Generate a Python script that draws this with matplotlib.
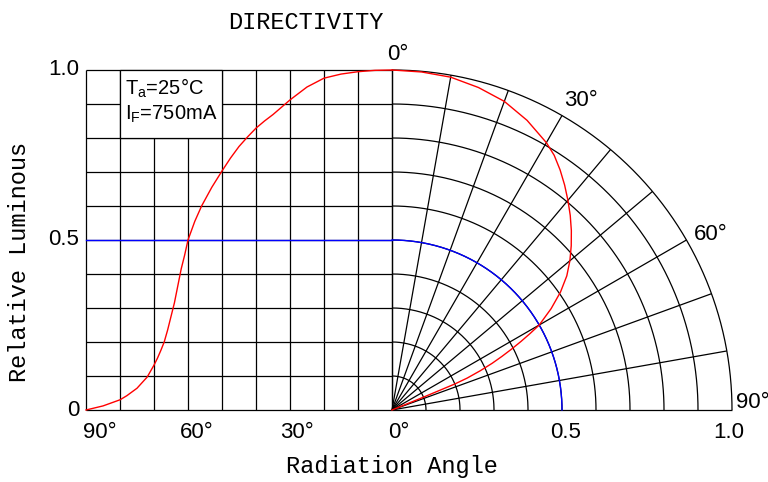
import numpy as np
import matplotlib
matplotlib.use("Agg")
import matplotlib.pyplot as plt
from matplotlib.patches import Rectangle

plt.rcParams['font.family'] = ['Liberation Sans', 'DejaVu Sans']
plt.rcParams['mathtext.fontset'] = 'custom'
plt.rcParams['mathtext.rm'] = 'Liberation Sans'

# ---- data ----
# rectangular plot (left half): relative luminous vs. angle
rect_angle = [0, 5, 10, 15, 20, 25, 30, 35, 37.5, 40, 42.5, 45, 47.5, 50, 53, 56, 58,
              60, 61, 62, 63, 64, 65, 66, 67, 68, 69, 70, 72, 75, 78, 80, 85, 90]
rect_lum = [1.0, 0.999, 0.995, 0.988, 0.976, 0.95, 0.912, 0.869, 0.85, 0.829, 0.803,
            0.775, 0.741, 0.703, 0.655, 0.60, 0.555, 0.50, 0.455, 0.415, 0.365, 0.315,
            0.275, 0.235, 0.2, 0.175, 0.152, 0.132, 0.097, 0.064, 0.042, 0.03, 0.012, 0.0]
# polar plot (right half)
polar_angle = [0, 5, 10, 15, 20, 25, 30, 32.5, 35, 37.5, 40, 42.5, 45, 47.5, 50, 52.5,
               55, 57.5, 60, 61, 62, 63, 64, 65, 66, 67, 67.5, 67.8, 68]
polar_r = [1.0, 0.998, 0.994, 0.982, 0.966, 0.94, 0.908, 0.888, 0.862, 0.834, 0.805,
           0.776, 0.746, 0.715, 0.683, 0.648, 0.605, 0.555, 0.50, 0.465, 0.43, 0.395,
           0.36, 0.325, 0.285, 0.24, 0.2, 0.1, 0.0]
half_level = 0.5

left_ticks = [90, 60, 30, 0]
left_tick_labels = ['90°', '60°', '30°', '0°']
right_ticks = [0.5, 1.0]
right_tick_labels = ['0.5', '1.0']
y_ticks = [0.0, 0.5, 1.0]
y_tick_labels = ['0', '0.5', '1.0']
polar_label_angles = [0, 30, 60, 90]
polar_labels = ['0°', '30°', '60°', '90°']

# ---- figure ----
W, H = 768, 482
fig = plt.figure(figsize=(W / 100, H / 100), dpi=100)
PXU = 340.0  # pixels per data unit
ax = fig.add_axes([86 / W, 72 / H, 646 / W, 340 / H])
ax.set_xlim(-0.9, 1.0)
ax.set_ylim(0, 1)
ax.axis('off')

def ang2x(a):
    return -np.asarray(a, float) / 100.0

gkw = dict(color='black', lw=0.9, clip_on=False, zorder=1, solid_capstyle='butt')

# left rectangular grid
for k in range(11):
    y = k / 10
    ax.plot([-0.9, 0], [y, y], **gkw)
for a in range(0, 91, 10):
    ax.plot([ang2x(a), ang2x(a)], [0, 1], **gkw)
# box for conditions
ax.add_patch(Rectangle((ang2x(80), 0.8), 0.3, 0.2, facecolor='white',
                       edgecolor='black', lw=0.9, zorder=2, clip_on=False))

# polar grid
th = np.radians(np.linspace(0, 90, 300))
for k in range(1, 11):
    r = k / 10
    ax.plot(r * np.sin(th), r * np.cos(th), **gkw)
for a in range(0, 91, 10):
    t = np.radians(a)
    ax.plot([0, np.sin(t)], [0, np.cos(t)], **gkw)

# blue half level
ax.plot([-0.9, 0], [half_level, half_level], color='blue', lw=1.0, zorder=3, clip_on=False)
ax.plot(half_level * np.sin(th), half_level * np.cos(th), color='blue', lw=1.0,
        zorder=3, clip_on=False)

# red curves
ax.plot(ang2x(rect_angle), rect_lum, color='red', lw=1.0, zorder=4, clip_on=False)
pa = np.radians(polar_angle)
pr = np.asarray(polar_r)
ax.plot(pr * np.sin(pa), pr * np.cos(pa), color='red', lw=1.0, zorder=4, clip_on=False)

# texts
tfs = 16
ax.text(ang2x(80) + 5 / PXU, 1.0 - 18 / PXU, 'T$_\\mathregular{a}$=25°C', fontsize=14.5,
        ha='left', va='center', zorder=5)
ax.text(ang2x(80) + 5 / PXU, 1.0 - 44 / PXU, 'I$_\\mathregular{F}$=750mA', fontsize=14.5,
        ha='left', va='center', zorder=5)

for v, lab in zip(y_ticks, y_tick_labels):
    ax.text(-0.9 - 7 / PXU, v, lab, fontsize=tfs, ha='right', va='center')

left_dx = [14, 9, 7, 7]
for a, lab, dx in zip(left_ticks, left_tick_labels, left_dx):
    ax.text(ang2x(a) + dx / PXU, -23 / PXU, lab, fontsize=tfs, ha='center', va='center')
right_dx = [4, -3]
for v, lab, dx in zip(right_ticks, right_tick_labels, right_dx):
    ax.text(v + dx / PXU, -23 / PXU, lab, fontsize=tfs, ha='center', va='center')

pl_r = [1.045, 1.068, 1.07, 1.06]
pl_off = [1.0, 1.4, 1.2, -1.2]
for a, lab, rr, off in zip(polar_label_angles, polar_labels, pl_r, pl_off):
    t = np.radians(a + off)
    ax.text(rr * np.sin(t), rr * np.cos(t), lab, fontsize=tfs, ha='center', va='center')

mono = ['Liberation Mono', 'DejaVu Sans Mono']
ax.text(-0.9 + 220 / PXU, 1.0 + 47 / PXU, 'DIRECTIVITY', fontsize=17, family=mono,
        ha='center', va='center')
ax.text(-0.9 - 66 / PXU, 0.435, 'Relative Luminous', fontsize=17, family=mono,
        ha='center', va='center', rotation=90)
ax.text(0.0, -57 / PXU, 'Radiation Angle', fontsize=17, family=mono,
        ha='center', va='center')

fig.savefig('out.png', dpi=100)
